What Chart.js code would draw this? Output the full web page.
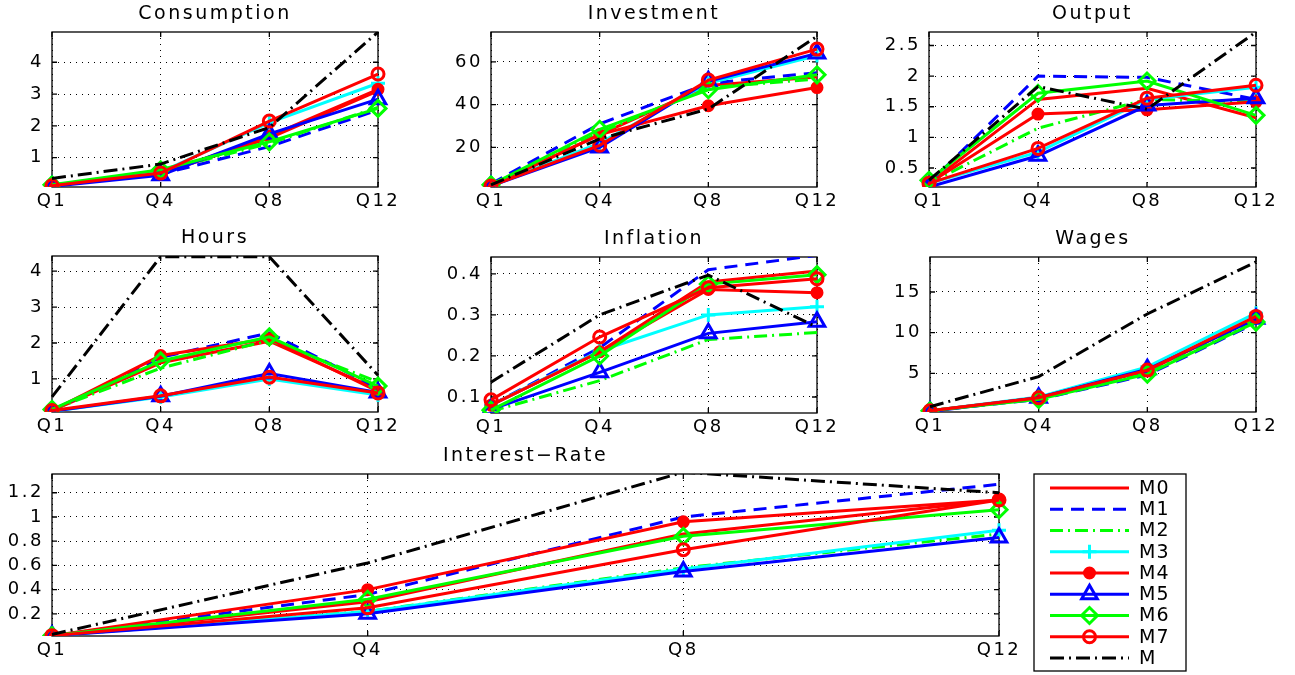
<!DOCTYPE html>
<html>
<head>
<meta charset="utf-8">
<script src="https://cdn.jsdelivr.net/npm/chart.js@4.4.1/dist/chart.umd.min.js"></script>
<style>
  body { margin: 0; background: #fff; width: 1295px; height: 675px; position: relative; overflow: hidden; }
  canvas { position: absolute; }
</style>
</head>
<body>
<script>
var quarters = ['Q1', 'Q4', 'Q8', 'Q12'];
var models = ['M0', 'M1', 'M2', 'M3', 'M4', 'M5', 'M6', 'M7', 'M'];

// one row per model (M0..M7, M), values at Q1, Q4, Q8, Q12
var consumption = [
  [0.12, 0.50, 1.62, 3.10],
  [0.12, 0.48, 1.35, 2.50],
  [0.14, 0.58, 1.45, 2.58],
  [0.12, 0.55, 2.10, 3.34],
  [0.12, 0.50, 1.68, 3.15],
  [0.10, 0.45, 1.75, 2.84],
  [0.15, 0.62, 1.50, 2.55],
  [0.12, 0.52, 2.15, 3.63],
  [0.35, 0.80, 1.95, 4.95]
];
var investment = [
  [2.0, 26.0, 49.0, 53.0],
  [3.0, 31.0, 50.0, 55.0],
  [2.5, 27.0, 48.0, 52.0],
  [2.0, 22.0, 50.0, 63.0],
  [2.0, 26.0, 39.5, 48.0],
  [2.0, 20.0, 51.0, 64.0],
  [2.5, 28.5, 47.0, 54.0],
  [2.0, 21.0, 51.5, 66.0],
  [2.5, 24.0, 38.0, 72.0]
];
var output = [
  [0.25, 1.62, 1.80, 1.32],
  [0.25, 2.00, 1.98, 1.62],
  [0.25, 1.15, 1.62, 1.58],
  [0.25, 0.76, 1.62, 1.82],
  [0.25, 1.38, 1.45, 1.58],
  [0.19, 0.70, 1.52, 1.64],
  [0.30, 1.72, 1.92, 1.36],
  [0.25, 0.82, 1.64, 1.85],
  [0.30, 1.83, 1.46, 2.72]
];
var hours = [
  [0.12, 1.45, 2.05, 0.70],
  [0.12, 1.60, 2.28, 0.75],
  [0.14, 1.30, 2.08, 0.92],
  [0.10, 0.50, 1.00, 0.55],
  [0.12, 1.65, 2.12, 0.65],
  [0.10, 0.52, 1.15, 0.62],
  [0.15, 1.50, 2.17, 0.80],
  [0.12, 0.53, 1.05, 0.61],
  [0.50, 4.40, 4.40, 1.10]
];
var inflation = [
  [0.080, 0.210, 0.380, 0.407],
  [0.080, 0.220, 0.410, 0.445],
  [0.065, 0.140, 0.240, 0.257],
  [0.080, 0.212, 0.300, 0.320],
  [0.080, 0.210, 0.362, 0.354],
  [0.070, 0.160, 0.255, 0.283],
  [0.068, 0.200, 0.375, 0.398],
  [0.093, 0.246, 0.366, 0.388],
  [0.136, 0.300, 0.397, 0.270]
];
var wages = [
  [0.4, 2.0, 5.3, 11.8],
  [0.4, 1.8, 4.8, 11.2],
  [0.4, 1.9, 5.0, 11.5],
  [0.4, 2.1, 5.8, 12.4],
  [0.4, 2.0, 5.4, 11.9],
  [0.3, 2.0, 5.5, 11.7],
  [0.4, 1.8, 4.9, 11.3],
  [0.4, 2.0, 5.4, 12.0],
  [0.9, 4.6, 12.3, 18.7]
];
var interestRate = [
  [0.02, 0.30, 0.86, 1.14],
  [0.02, 0.36, 1.00, 1.27],
  [0.02, 0.22, 0.58, 0.86],
  [0.02, 0.22, 0.57, 0.89],
  [0.02, 0.40, 0.96, 1.14],
  [0.02, 0.20, 0.55, 0.83],
  [0.02, 0.32, 0.84, 1.06],
  [0.02, 0.25, 0.73, 1.14],
  [0.03, 0.62, 1.37, 1.20]
];

// y tick labels of each panel
var consumptionTicks = [1, 2, 3, 4];
var investmentTicks = [20, 40, 60];
var outputTicks = [0.5, 1, 1.5, 2, 2.5];
var hoursTicks = [1, 2, 3, 4];
var inflationTicks = [0.1, 0.2, 0.3, 0.4];
var wagesTicks = [5, 10, 15];
var interestTicks = [0.2, 0.4, 0.6, 0.8, 1, 1.2];

// line styles, MATLAB-like
var styles = [
  { color: '#ff0000', dash: [], marker: false },
  { color: '#0000ff', dash: [13, 8], marker: false },
  { color: '#00ff00', dash: [13, 5, 2, 5], marker: false },
  { color: '#00ffff', dash: [], marker: 'cross', radius: 7 },
  { color: '#ff0000', dash: [], marker: 'circle', radius: 5, filled: true },
  { color: '#0000ff', dash: [], marker: 'triangle', radius: 9 },
  { color: '#00ff00', dash: [], marker: 'rectRot', radius: 8 },
  { color: '#ff0000', dash: [], marker: 'circle', radius: 6 },
  { color: '#000000', dash: [14, 5, 2, 5], marker: false }
];

var FONT = 'DejaVu Sans';
Chart.defaults.font.family = FONT;
Chart.defaults.color = '#000';

/**
 * Draws the panel title, the axes box and the inward tick marks
 */
function panelPlugin(title) {
  return {
    id: 'panel',
    beforeDraw: function (chart) {
      chart.ctx.letterSpacing = '2.5px';
    },
    beforeDatasetsDraw: function (chart) {
      var a = chart.chartArea, ctx = chart.ctx;
      ctx.save();
      ctx.strokeStyle = '#000';
      ctx.lineWidth = 1.3;
      ctx.strokeRect(a.left, a.top, a.right - a.left, a.bottom - a.top);
      ctx.beginPath();
      chart.scales.y.ticks.forEach(function (t) {
        var y = chart.scales.y.getPixelForValue(t.value);
        ctx.moveTo(a.left, y); ctx.lineTo(a.left + 5, y);
        ctx.moveTo(a.right, y); ctx.lineTo(a.right - 5, y);
      });
      chart.scales.x.ticks.forEach(function (t, i) {
        var x = chart.scales.x.getPixelForTick(i);
        ctx.moveTo(x, a.bottom); ctx.lineTo(x, a.bottom - 5);
        ctx.moveTo(x, a.top); ctx.lineTo(x, a.top + 5);
      });
      ctx.stroke();
      ctx.restore();
    },
    afterDraw: function (chart) {
      var a = chart.chartArea, ctx = chart.ctx;
      ctx.save();
      ctx.font = '19px "' + FONT + '"';
      ctx.fillStyle = '#000';
      ctx.textAlign = 'center';
      ctx.textBaseline = 'alphabetic';
      ctx.fillText(title, (a.left + a.right) / 2, a.top - 13);
      ctx.restore();
    }
  };
}

/**
 * Legend box drawn to the right of the interest-rate panel
 */
function legendPlugin(box) {
  return {
    id: 'mlegend',
    afterDraw: function (chart) {
      var ctx = chart.ctx;
      var bx = box.x, by = box.y;
      ctx.save();
      ctx.fillStyle = '#fff';
      ctx.fillRect(bx, by, box.w, box.h);
      ctx.strokeStyle = '#000';
      ctx.lineWidth = 1.3;
      ctx.strokeRect(bx, by, box.w, box.h);
      models.forEach(function (m, i) {
        var s = styles[i];
        var y = by + 14 + i * 21.25;
        ctx.strokeStyle = s.color;
        ctx.lineWidth = 3;
        ctx.setLineDash(s.dash);
        ctx.beginPath();
        ctx.moveTo(bx + 16, y);
        ctx.lineTo(bx + 95, y);
        ctx.stroke();
        ctx.setLineDash([]);
        if (s.marker && Chart.helpers && Chart.helpers.drawPoint) {
          ctx.fillStyle = s.filled ? s.color : 'rgba(0,0,0,0)';
          Chart.helpers.drawPoint(ctx, { pointStyle: s.marker, radius: s.radius, rotation: 0, borderWidth: 3 }, bx + 55.5, y);
        }
        ctx.fillStyle = '#000';
        ctx.font = '19px "' + FONT + '"';
        ctx.letterSpacing = '1px';
        ctx.textAlign = 'left';
        ctx.textBaseline = 'middle';
        ctx.fillText(m, bx + 105, y + 1);
      });
      ctx.restore();
    }
  };
}

function addPanel(p) {
  var left = p.area[0] - 50, top = p.area[1] - 32;
  var padRight = p.legend ? 1295 - p.area[2] : 30;
  var xHeight = p.legend ? 675 - p.area[3] : 26;
  var w = p.area[2] - left + padRight;
  var h = p.area[3] - top + xHeight;
  var canvas = document.createElement('canvas');
  canvas.width = w;
  canvas.height = h;
  canvas.style.left = left + 'px';
  canvas.style.top = top + 'px';
  canvas.style.width = w + 'px';
  canvas.style.height = h + 'px';
  document.body.appendChild(canvas);

  var datasets = p.rows.map(function (row, i) {
    var s = styles[i];
    return {
      label: models[i],
      data: row,
      borderColor: s.color,
      backgroundColor: s.color,
      borderWidth: 3,
      borderDash: s.dash,
      tension: 0,
      fill: false,
      pointStyle: s.marker || 'circle',
      pointRadius: s.marker ? s.radius : 0,
      pointHoverRadius: s.marker ? s.radius : 0,
      pointBorderWidth: 3,
      pointBorderColor: s.color,
      pointBackgroundColor: s.filled ? s.color : 'rgba(0,0,0,0)',
      order: models.length - 1 - i
    };
  });

  var plugins = [panelPlugin(p.title)];
  if (p.legend)
    plugins.push(legendPlugin({ x: 1034 - left, y: 474 - top, w: 152, h: 197 }));

  new Chart(canvas, {
    type: 'line',
    data: { labels: quarters, datasets: datasets },
    options: {
      responsive: false,
      animation: false,
      devicePixelRatio: 1,
      layout: { padding: { top: 32, right: padRight, left: 0, bottom: 0 } },
      plugins: { legend: { display: false }, tooltip: { enabled: false }, title: { display: false } },
      scales: {
        x: {
          type: 'category',
          offset: false,
          grid: { color: '#000', lineWidth: 1, drawTicks: false },
          border: { display: false, dash: [1, 5] },
          ticks: { font: { size: 18 }, padding: 4, maxRotation: 0, autoSkip: false },
          afterFit: function (s) { s.height = xHeight; }
        },
        y: {
          type: 'linear',
          min: p.yMin,
          max: p.yMax,
          grid: { color: '#000', lineWidth: 1, drawTicks: false },
          border: { display: false, dash: [1, 5] },
          ticks: { font: { size: 18 }, padding: 8, callback: function (v) { return String(v); } },
          afterBuildTicks: function (s) { s.ticks = p.yTicks.map(function (v) { return { value: v }; }); },
          afterFit: function (s) { s.width = 50; }
        }
      }
    },
    plugins: plugins
  });
}

var panels = [
  { title: 'Consumption', rows: consumption, yMin: 0.08, yMax: 4.95, yTicks: consumptionTicks, area: [52, 32, 378, 187] },
  { title: 'Investment', rows: investment, yMin: 1.5, yMax: 74, yTicks: investmentTicks, area: [491, 32, 817, 187] },
  { title: 'Output', rows: output, yMin: 0.19, yMax: 2.72, yTicks: outputTicks, area: [929, 32, 1256, 187] },
  { title: 'Hours', rows: hours, yMin: 0.08, yMax: 4.42, yTicks: hoursTicks, area: [52, 256, 378, 412] },
  { title: 'Inflation', rows: inflation, yMin: 0.061, yMax: 0.441, yTicks: inflationTicks, area: [491, 257, 817, 413] },
  { title: 'Wages', rows: wages, yMin: 0.25, yMax: 19.3, yTicks: wagesTicks, area: [930, 257, 1256, 412] },
  { title: 'Interest\u2212Rate', rows: interestRate, yMin: 0.017, yMax: 1.355, yTicks: interestTicks, area: [52, 474, 999, 636], legend: true }
];

panels.forEach(addPanel);
</script>
</body>
</html>
